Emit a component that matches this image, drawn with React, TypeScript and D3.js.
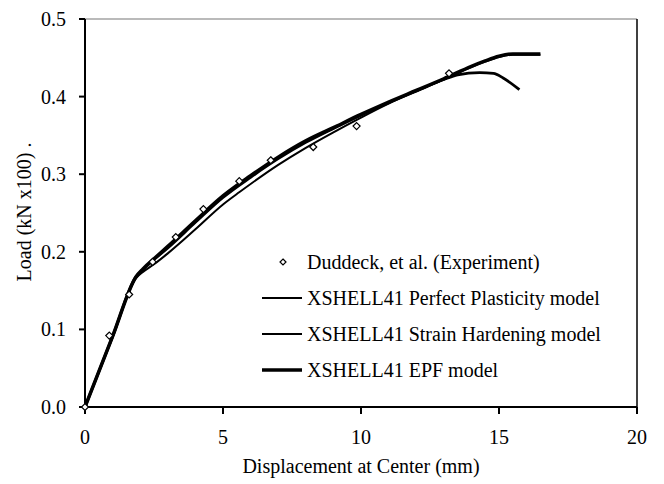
import React from "react";
import * as d3 from "d3";

const expX = [0, 0.88, 1.6, 2.45, 3.29, 4.29, 5.59, 6.73, 8.27, 9.84, 13.19];
const expY = [0, 0.092, 0.145, 0.187, 0.219, 0.255, 0.291, 0.318, 0.335, 0.362, 0.43];

const epfX = [0, 1, 1.85, 2.1, 2.5, 3, 4, 5, 6, 7, 8, 9, 10, 11, 12, 13, 14, 14.5, 15, 15.5, 16.5];
const epfY = [0, 0.091, 0.168, 0.178, 0.191, 0.207, 0.24, 0.272, 0.298, 0.322, 0.343, 0.36, 0.377, 0.393, 0.408, 0.423, 0.439, 0.446, 0.452, 0.455, 0.455];

const shX = [0, 1, 1.85, 2.1, 2.5, 3, 4, 5, 5.6, 7, 8, 9, 10, 11, 12, 13, 14, 14.5, 15, 15.5, 16.5];
const shY = [0, 0.09, 0.166, 0.174, 0.184, 0.198, 0.229, 0.261, 0.277, 0.312, 0.334, 0.354, 0.373, 0.391, 0.407, 0.422, 0.438, 0.445, 0.451, 0.454, 0.454];

const ppX = [0, 1, 1.85, 2.1, 2.5, 3, 4, 5, 6, 7, 8, 9, 10, 11, 12, 13, 13.5, 14.3, 14.8, 15.15, 15.74];
const ppY = [0, 0.091, 0.168, 0.177, 0.19, 0.205, 0.238, 0.27, 0.296, 0.32, 0.341, 0.359, 0.376, 0.392, 0.407, 0.422, 0.428, 0.431, 0.43, 0.424, 0.409];

const xTicks = [0, 5, 10, 15, 20];
const yTicks = [0, 0.1, 0.2, 0.3, 0.4, 0.5];

const legendLabels = [
  "Duddeck, et al. (Experiment)",
  "XSHELL41 Perfect Plasticity model",
  "XSHELL41 Strain Hardening model",
  "XSHELL41 EPF model",
];

export default function App() {
  const W = 664, H = 484;
  const left = 85, right = 637, top = 19, bottom = 407;
  const x = d3.scaleLinear().domain([0, 20]).range([left, right]);
  const y = d3.scaleLinear().domain([0, 0.5]).range([bottom, top]);
  const line = d3.line<[number, number]>().x(d => x(d[0])).y(d => y(d[1])).curve(d3.curveMonotoneX);
  const zip = (a: number[], b: number[]) => a.map((v, i) => [v, b[i]] as [number, number]);
  const font = "'Liberation Serif', 'Times New Roman', serif";
  const diamond = (cx: number, cy: number, r = 3.5) =>
    `M${cx},${cy - r}L${cx + r},${cy}L${cx},${cy + r}L${cx - r},${cy}Z`;
  const legY = [262, 298, 334, 370];

  return (
    <svg width={W} height={H} style={{ position: "absolute", left: 0, top: 0, background: "#fff" }} fontFamily={font}>
      <rect x={0} y={0} width={W} height={H} fill="#fff" />
      {/* frame */}
      <line x1={left} x2={right} y1={top} y2={top} stroke="#777" strokeWidth={1.2} />
      <line x1={right} x2={right} y1={top} y2={bottom} stroke="#000" strokeWidth={1.5} />
      <line x1={left} x2={left} y1={top} y2={bottom} stroke="#000" strokeWidth={2} />
      <line x1={left} x2={right} y1={bottom} y2={bottom} stroke="#000" strokeWidth={2} />
      {/* ticks */}
      {yTicks.map(t => (
        <g key={"y" + t}>
          <line x1={left - 6} x2={left} y1={y(t)} y2={y(t)} stroke="#000" strokeWidth={2} />
          <text x={66} y={y(t)} dy="0.35em" textAnchor="end" fontSize={20}>{d3.format(".1f")(t)}</text>
        </g>
      ))}
      {xTicks.map(t => (
        <g key={"x" + t}>
          <line x1={x(t)} x2={x(t)} y1={bottom} y2={bottom + 7} stroke="#000" strokeWidth={2} />
          <text x={x(t)} y={444} textAnchor="middle" fontSize={20}>{t}</text>
        </g>
      ))}
      <text x={361} y={473} textAnchor="middle" fontSize={20}>Displacement at Center (mm)</text>
      <text transform={`translate(31,212) rotate(-90)`} textAnchor="middle" fontSize={20}>Load (kN x100) .</text>
      {/* lines */}
      <path d={line(zip(shX, shY)) || ""} fill="none" stroke="#000" strokeWidth={2} />
      <path d={line(zip(ppX, ppY)) || ""} fill="none" stroke="#000" strokeWidth={2.8} />
      <path d={line(zip(epfX, epfY)) || ""} fill="none" stroke="#000" strokeWidth={3.5} />
      {expX.map((v, i) => (
        <path key={"e" + i} d={diamond(x(v), y(expY[i]))} fill="#fff" stroke="#000" strokeWidth={1.2} />
      ))}
      {/* legend */}
      <path d={diamond(283, legY[0], 3)} fill="#fff" stroke="#000" strokeWidth={1.2} />
      <line x1={262} x2={302} y1={legY[1]} y2={legY[1]} stroke="#000" strokeWidth={2} />
      <line x1={262} x2={302} y1={legY[2]} y2={legY[2]} stroke="#000" strokeWidth={2} />
      <line x1={262} x2={302} y1={legY[3]} y2={legY[3]} stroke="#000" strokeWidth={3.5} />
      {legendLabels.map((l, i) => (
        <text key={l} x={307} y={legY[i]} dy="0.35em" fontSize={20}>{l}</text>
      ))}
    </svg>
  );
}
